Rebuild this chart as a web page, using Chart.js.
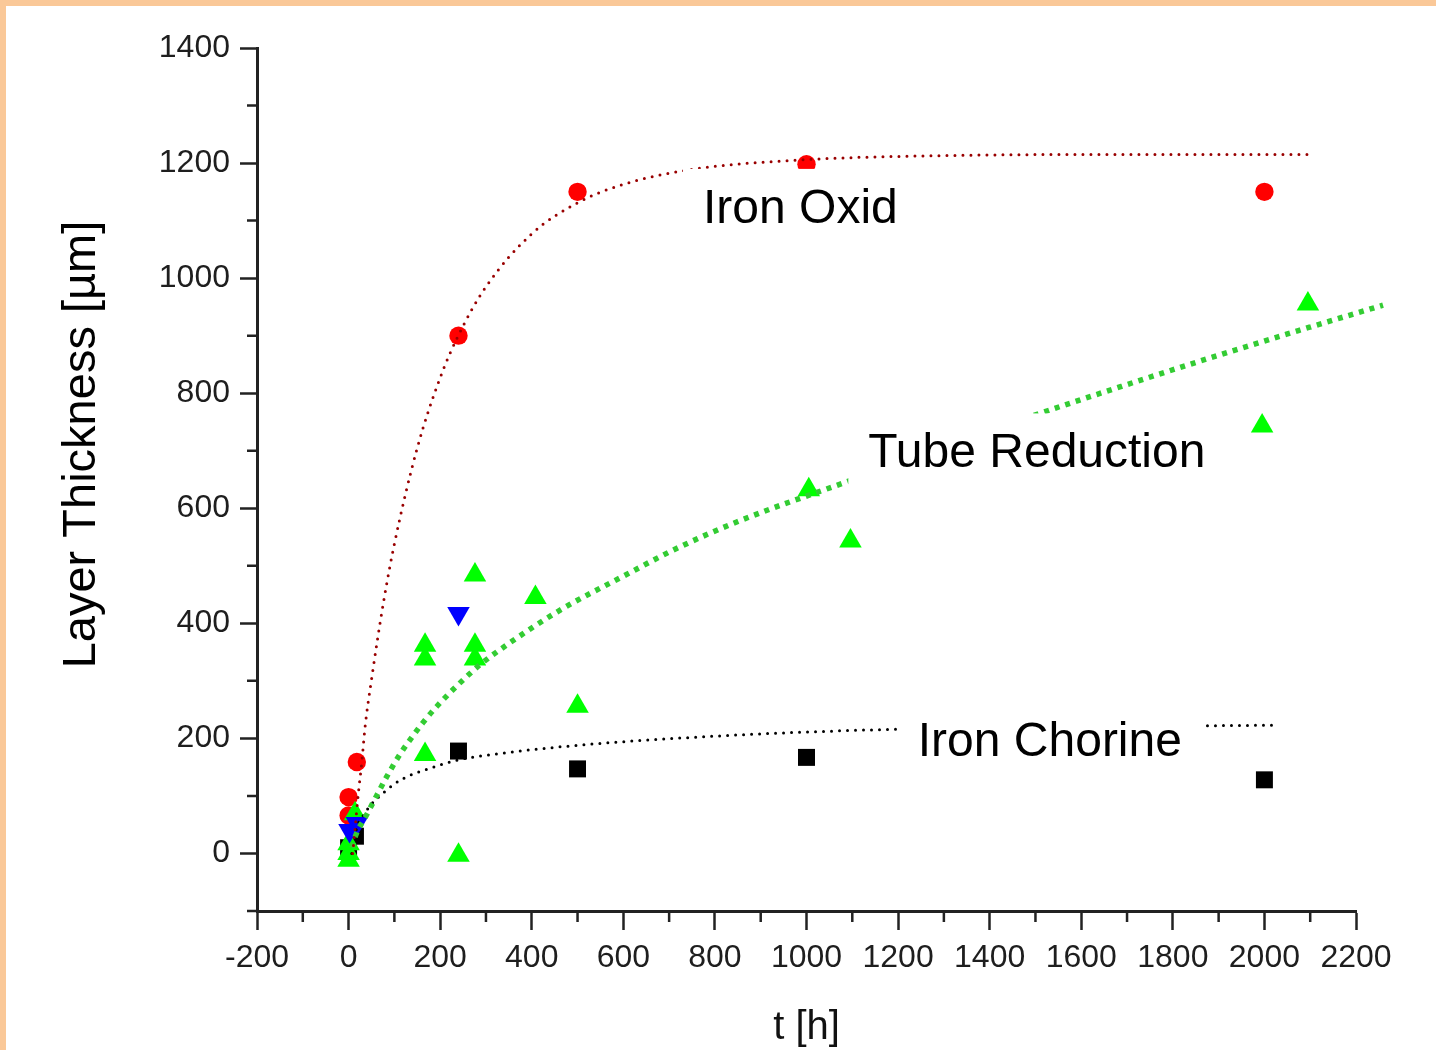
<!DOCTYPE html>
<html>
<head>
<meta charset="utf-8">
<script src="https://cdn.jsdelivr.net/npm/chart.js@4.4.1/dist/chart.umd.min.js"></script>
<style>
html,body{margin:0;padding:0;background:#fff;}
#wrap{position:relative;width:1436px;height:1050px;overflow:hidden;background:#fff;}
#c{position:absolute;left:0;top:0;}
.bt{position:absolute;left:0;top:0;width:1436px;height:6px;background:#FAC898;}
.bl{position:absolute;left:0;top:0;width:6px;height:1050px;background:#FAC898;}
</style>
</head>
<body>
<div id="wrap"><canvas id="c" width="1436" height="1050"></canvas><div class="bt"></div><div class="bl"></div></div>
<script>
// ---- measured points ----
const oxidT = [0, 0, 18, 240, 500, 1000, 2000];
const oxidY = [98, 66, 159, 900, 1150, 1198, 1150];

const chlorT = [0, 15, 240, 500, 1000, 2000];
const chlorY = [10, 30, 178, 147, 167, 128];

const blueT = [2, 18, 240];
const blueY = [40, 52, 417];

const tubeT = [0, 0, 0, 14, 167, 167, 167, 240, 276, 276, 276, 408, 500, 1005, 1096, 1995, 2095];
const tubeY = [-12, 0, 17, 69, 172, 338, 362, -3, 338, 362, 484, 445, 256, 632, 543, 743, 955];

// ---- fitted curves ----
const oxidFitT = [9, 14, 21, 29, 36, 50, 75, 100, 150, 200, 240, 300, 400, 500, 600, 750, 1000, 1300, 1700, 2110];
const oxidFitY = [0, 42, 102, 160, 220, 302, 431, 538, 705, 827, 901, 985, 1077, 1131, 1163, 1189, 1206, 1213, 1215, 1215];

const tubeFitT = [8, 14, 40, 61, 83, 112, 140, 162, 192, 240, 287, 350, 462, 600, 716, 850, 1088, 1300, 1510, 1700, 1900, 2100, 2259];
const tubeFitY = [10, 28, 68, 100, 133, 172, 204, 227, 255, 294, 328, 365, 423, 482, 530, 577, 646, 706, 765, 815, 866, 915, 953];

const chlorFitT = [7, 10, 21, 32, 50, 64, 112, 185, 236, 323, 500, 826, 1200, 1500, 1876, 2022];
const chlorFitY = [0, 17, 52, 66, 86, 97, 127, 150, 162, 173, 188, 205, 216, 219, 222, 223];

// ---- axes ----
const xMajorTicks = [-200, 0, 200, 400, 600, 800, 1000, 1200, 1400, 1600, 1800, 2000, 2200];
const xTickLabels = ['-200', '0', '200', '400', '600', '800', '1000', '1200', '1400', '1600', '1800', '2000', '2200'];
const xMinorTicks = [-100, 100, 300, 500, 700, 900, 1100, 1300, 1500, 1700, 1900, 2100];
const yMajorTicks = [0, 200, 400, 600, 800, 1000, 1200, 1400];
const yTickLabels = ['0', '200', '400', '600', '800', '1000', '1200', '1400'];
const yMinorTicks = [-100, 100, 300, 500, 700, 900, 1100, 1300];

const xTitle = 't [h]';
const yTitle = 'Layer Thickness [µm]';

const labelTexts = ['Iron Oxid', 'Tube Reduction', 'Iron Chorine'];
const labelT = [774, 1135, 1243];
const labelY = [1096, 671, 169];

const FONT = '"Liberation Sans", Arial, Helvetica, sans-serif';
const toXY = (xs, ys) => xs.map((x, i) => ({x: x, y: ys[i]}));

const minorTicks = {
  id: 'minorTicks',
  afterDraw(chart) {
    const {ctx, scales: {x, y}, chartArea: a} = chart;
    ctx.save();
    ctx.strokeStyle = '#222';
    ctx.lineWidth = 2.5;
    ctx.beginPath();
    xMinorTicks.forEach(v => { const p = x.getPixelForValue(v); ctx.moveTo(p, a.bottom); ctx.lineTo(p, a.bottom + 11); });
    yMinorTicks.forEach(v => { const p = y.getPixelForValue(v); ctx.moveTo(a.left, p); ctx.lineTo(a.left - 10, p); });
    ctx.stroke();
    ctx.restore();
  }
};

const annotations = {
  id: 'annotations',
  afterDatasetsDraw(chart) {
    const {ctx, scales: {x, y}} = chart;
    ctx.save();
    ctx.font = '48px ' + FONT;
    ctx.textBaseline = 'alphabetic';
    ctx.textAlign = 'left';
    labelTexts.forEach((t, i) => {
      const px = x.getPixelForValue(labelT[i]);
      const py = y.getPixelForValue(labelY[i]);
      const w = ctx.measureText(t).width;
      ctx.fillStyle = '#fff';
      ctx.fillRect(px - 20, py - 34 - 20, w + 42, 34 + 20 + 22);
      ctx.fillStyle = '#000';
      ctx.fillText(t, px, py);
    });
    ctx.restore();
  },
  afterDraw(chart) {
    const {ctx, chartArea: a} = chart;
    ctx.save();
    ctx.fillStyle = '#000';
    ctx.textAlign = 'center';
    ctx.textBaseline = 'alphabetic';
    ctx.font = '47px ' + FONT;
    ctx.translate(95, (a.top + a.bottom) / 2 - 35);
    ctx.rotate(-Math.PI / 2);
    ctx.fillText(yTitle, 0, 0);
    ctx.restore();
    ctx.save();
    ctx.fillStyle = '#111';
    ctx.textAlign = 'center';
    ctx.textBaseline = 'alphabetic';
    ctx.font = '40px ' + FONT;
    ctx.fillText(xTitle, (a.left + a.right) / 2, 1039);
    ctx.restore();
  }
};

const lineBase = {showLine: true, pointRadius: 0, pointHoverRadius: 0, fill: false, cubicInterpolationMode: 'monotone', order: 0};

new Chart(document.getElementById('c').getContext('2d'), {
  type: 'scatter',
  data: {
    datasets: [
      Object.assign({}, lineBase, {label: 'Iron Oxid fit', data: toXY(oxidFitT, oxidFitY), borderColor: '#990000', borderWidth: 3, borderDash: [0, 8], borderCapStyle: 'round'}),
      Object.assign({}, lineBase, {label: 'Tube Reduction fit', data: toXY(tubeFitT, tubeFitY), borderColor: '#33CC33', borderWidth: 5.5, borderDash: [5, 6], borderCapStyle: 'butt', clip: false}),
      Object.assign({}, lineBase, {label: 'Iron Chorine fit', data: toXY(chlorFitT, chlorFitY), borderColor: '#000000', borderWidth: 3, borderDash: [0, 8], borderCapStyle: 'round'}),
      {label: 'Blue', data: toXY(blueT, blueY), pointStyle: 'triangle', rotation: 180, pointRadius: 13, backgroundColor: '#0000FF', borderWidth: 0, order: 1},
      {label: 'Tube Reduction', data: toXY(tubeT, tubeY), pointStyle: 'triangle', pointRadius: 13, backgroundColor: '#00FF00', borderWidth: 0, order: 2},
      {label: 'Iron Oxid', data: toXY(oxidT, oxidY), pointStyle: 'circle', pointRadius: 9.2, backgroundColor: '#FF0000', borderWidth: 0, order: 3},
      {label: 'Iron Chorine', data: toXY(chlorT, chlorY), pointStyle: 'rect', pointRadius: 12, backgroundColor: '#000000', borderWidth: 0, order: 4}
    ]
  },
  options: {
    responsive: false,
    animation: false,
    devicePixelRatio: 1,
    events: [],
    layout: {padding: {top: 48, right: 80, left: 0, bottom: 0}},
    plugins: {legend: {display: false}, tooltip: {enabled: false}},
    scales: {
      x: {
        type: 'linear', position: 'bottom', min: -200, max: 2200,
        afterFit(s) { s.height = 139; },
        afterBuildTicks(s) { s.ticks = xMajorTicks.map(v => ({value: v})); },
        grid: {drawOnChartArea: false, drawTicks: true, tickLength: 19, tickWidth: 2.5, tickColor: '#222'},
        border: {display: true, color: '#222', width: 3},
        ticks: {font: {family: FONT, size: 32}, color: '#1e1e1e', padding: 9, maxRotation: 0, autoSkip: false,
                callback: (v, i) => xTickLabels[i]}
      },
      y: {
        type: 'linear', position: 'left', min: -100, max: 1400,
        afterFit(s) { s.width = 257; },
        afterBuildTicks(s) { s.ticks = yMajorTicks.map(v => ({value: v})); },
        grid: {drawOnChartArea: false, drawTicks: true, tickLength: 17, tickWidth: 2.5, tickColor: '#222'},
        border: {display: true, color: '#222', width: 3},
        ticks: {font: {family: FONT, size: 32}, color: '#1e1e1e', padding: 10, autoSkip: false,
                callback: (v, i) => yTickLabels[i]}
      }
    }
  },
  plugins: [minorTicks, annotations]
});
</script>
</body>
</html>
